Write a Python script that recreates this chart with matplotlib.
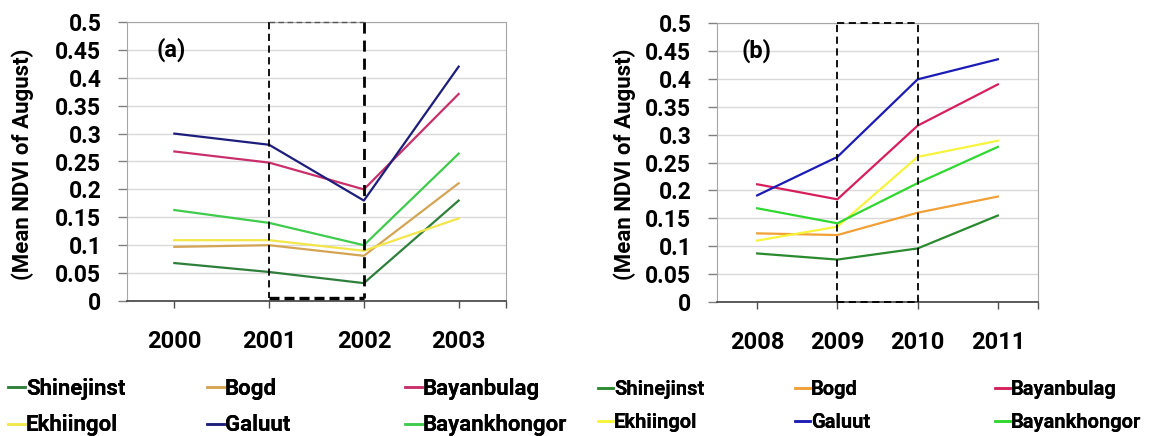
import matplotlib
matplotlib.use("Agg")
import matplotlib.pyplot as plt
from matplotlib.lines import Line2D

plt.rcParams['font.family'] = ['Roboto', 'DejaVu Sans']
plt.rcParams['font.weight'] = 'bold'

Sitios = ['Shinejinst', 'Bogd', 'Bayanbulag', 'Ekhiingol', 'Galuut', 'Bayankhongor']

# periodo (a) 2000-2003
AniosA = ['2000', '2001', '2002', '2003']
ShinejinstA = [0.068, 0.052, 0.032, 0.180]
BogdA = [0.097, 0.100, 0.081, 0.211]
BayanbulagA = [0.268, 0.248, 0.200, 0.371]
EkhiingolA = [0.109, 0.109, 0.090, 0.148]
GaluutA = [0.300, 0.280, 0.180, 0.420]
BayankhongorA = [0.163, 0.140, 0.100, 0.264]

# periodo (b) 2008-2011
AniosB = ['2008', '2009', '2010', '2011']
ShinejinstB = [0.087, 0.076, 0.096, 0.155]
BogdB = [0.123, 0.120, 0.160, 0.189]
BayanbulagB = [0.211, 0.184, 0.316, 0.390]
EkhiingolB = [0.110, 0.135, 0.260, 0.289]
GaluutB = [0.191, 0.260, 0.399, 0.435]
BayankhongorB = [0.168, 0.141, 0.213, 0.278]

ColoresA = ['#2f7f3c', '#d4a455', '#c9306b', '#f2e64a', '#1d1d7c', '#3fcb4c']
ColoresB = ['#2a8a2e', '#f0a035', '#d71f5c', '#f6f43c', '#1b1bb5', '#2fd82f']

SeriesA = [ShinejinstA, BogdA, BayanbulagA, EkhiingolA, GaluutA, BayankhongorA]
SeriesB = [ShinejinstB, BogdB, BayanbulagB, EkhiingolB, GaluutB, BayankhongorB]

Fig = plt.figure(figsize=(11.52, 4.36), dpi=100)
AxA = Fig.add_axes([127 / 1152, 1 - 301 / 436, 379 / 1152, 279 / 436])
AxB = Fig.add_axes([717 / 1152, 1 - 302 / 436, 321 / 1152, 279 / 436])


def DibujarPanel(Ax, Anios, Series, Colores, Letra):
    X = list(range(len(Anios)))
    for Serie, Color, Nombre in zip(Series, Colores, Sitios):
        Ax.plot(X, Serie, color=Color, lw=1.6, label=Nombre, zorder=3)
    Ax.set_xlim(-0.5, len(Anios) - 0.5)
    Ax.set_ylim(0, 0.5)
    Ax.set_yticks([i * 0.05 for i in range(11)])
    Ax.set_yticklabels(['0', '0.05', '0.1', '0.15', '0.2', '0.25', '0.3', '0.35', '0.4', '0.45', '0.5'])
    Ax.set_xticks(X)
    Ax.set_xticklabels(Anios)
    Ax.set_xticks([len(Anios) - 0.5], minor=True)
    Ax.tick_params(axis='y', length=6.5, width=1, color='#808080', pad=12, labelsize=16.5)
    Ax.tick_params(axis='x', which='both', length=5, width=1, color='#505050', pad=16, labelsize=17)
    Ax.grid(axis='y', color='#d9d9d9', lw=1, zorder=0)
    Ax.set_axisbelow(True)
    for Lado in ['left', 'top', 'right']:
        Ax.spines[Lado].set_color('#a6a6a6')
    Ax.spines['bottom'].set_color('#404040')
    Ax.spines['bottom'].set_linewidth(1.2)
    Ax.set_ylabel('(Mean NDVI of August)', fontsize=16, fontweight='bold')
    Ax.text(0.077, 0.9, Letra, transform=Ax.transAxes, fontsize=17, fontweight='bold',
            ha='left', va='center')


DibujarPanel(AxA, AniosA, SeriesA, ColoresA, '(a)')
DibujarPanel(AxB, AniosB, SeriesB, ColoresB, '(b)')
AxA.yaxis.set_label_coords(-0.245, 0.49)
AxB.yaxis.set_label_coords(-0.252, 0.495)

# recuadro punteado (a)
Guion = (0, (4, 2.5))
AxA.plot([1, 1], [0.5, 0.006], color='black', lw=1.3, ls=Guion, zorder=4, clip_on=False)
AxA.plot([2, 2], [0.5, 0.006], color='black', lw=2.0, ls=Guion, zorder=4, clip_on=False)
AxA.plot([1, 2], [0.006, 0.006], color='black', lw=2.4, ls=(0, (3, 1.5)), zorder=4, clip_on=False)
AxA.plot([1, 2], [0.5, 0.5], color='#555555', lw=1.0, ls=Guion, zorder=4, clip_on=False)

# recuadro punteado (b)
for Xs, Ys in [([1, 1], [0, 0.5]), ([2, 2], [0, 0.5]), ([1, 2], [0.5, 0.5]), ([1, 2], [0, 0])]:
    AxB.plot(Xs, Ys, color='black', lw=1.3, ls=Guion, zorder=4, clip_on=False)

# leyendas: tres columnas por panel
def Leyenda(XPix, YPix, Indices, Colores, Tam):
    Handles = [Line2D([], [], color=Colores[i], lw=1.8) for i in Indices]
    Labels = [Sitios[i] for i in Indices]
    Leg = Fig.legend(Handles, Labels, loc='upper left', bbox_to_anchor=(XPix / 1152, 1 - YPix / 436),
                     frameon=False, borderpad=0, borderaxespad=0, handlelength=0.75,
                     handletextpad=0.05, labelspacing=0.65 * 16 / Tam, prop={'size': Tam, 'weight': 'bold'})
    Fig.add_artist(Leg)


for XPix, Indices in [(8, [0, 3]), (207, [1, 4]), (405, [2, 5])]:
    Leyenda(XPix, 378, Indices, ColoresA, 16)
for XPix, Indices in [(598, [0, 3]), (795, [1, 4]), (995, [2, 5])]:
    Leyenda(XPix, 380, Indices, ColoresB, 14.5)

Fig.savefig('out.png', dpi=100)
